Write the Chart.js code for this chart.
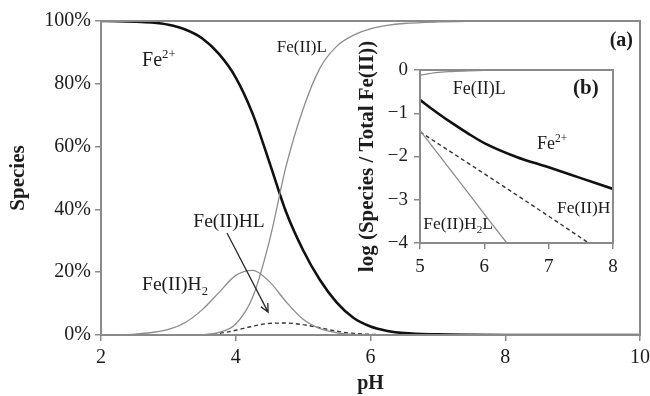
<!DOCTYPE html>
<html>
<head>
<meta charset="utf-8">
<script src="https://cdn.jsdelivr.net/npm/chart.js@4.4.0/dist/chart.umd.min.js"></script>
<style>
  body { margin: 0; background: #fff; }
  #wrap { position: relative; width: 650px; height: 396px; overflow: hidden; background: #fff; }
  #mainChart { position: absolute; left: 0; top: 0; }
  #insetChart { position: absolute; left: 355px; top: 38px; }
</style>
</head>
<body>
<div id="wrap">
  <canvas id="mainChart" width="650" height="396"></canvas>
  <canvas id="insetChart" width="270" height="252"></canvas>
</div>
<script>
// (a) species distribution, % of total Fe(II) vs pH
const phMain = [2, 2.25, 2.5, 2.75, 3, 3.25, 3.5, 3.75, 4, 4.25, 4.5, 4.75, 5, 5.25, 5.5, 5.75, 6, 6.25, 6.5, 7, 7.5, 8, 9, 10];
const fe2Pct  = [100, 99.95, 99.8, 99.5, 98.8, 97.3, 94.5, 89.5, 82, 70.5, 55, 39, 27, 17.5, 10.3, 5.4, 2.7, 1.3, 0.6, 0.2, 0.05, 0, 0, 0];
const feLPct  = [0, 0, 0, 0, 0, 0, 0.1, 0.8, 3.5, 12, 30, 54, 72, 85, 92, 95.5, 97.5, 98.6, 99.2, 99.7, 99.9, 100, 100, 100];
const feH2Pct = [0, 0.1, 0.3, 0.8, 1.8, 4, 8, 13.5, 19, 20.6, 17, 10.5, 5, 2, 0.7, 0.2, 0.05, 0, 0, 0, 0, 0, 0, 0];
const feHLPct = [0, 0, 0, 0, 0, 0, 0, 0.5, 1.5, 2.8, 3.7, 3.8, 3.3, 2.3, 1.2, 0.5, 0.2, 0.05, 0, 0, 0, 0, 0, 0];
const mainTicksY = [0, 20, 40, 60, 80, 100];

// (b) log(species / total Fe(II)) for pH 5-8
const phInset = [5, 5.25, 5.5, 5.75, 6, 6.5, 7, 7.5, 8];
const fe2Log  = [-0.69, -0.97, -1.23, -1.47, -1.69, -2.01, -2.25, -2.5, -2.75];
const feLLog  = [-0.12, -0.06, -0.035, -0.02, -0.01, -0.005, 0, 0, 0];
const h2lPh   = [5, 5.5, 6, 6.35];
const h2lLog  = [-1.4, -2.36, -3.33, -4];
const hlPh    = [5, 6, 7, 7.62];
const hlLog   = [-1.43, -2.4, -3.38, -4];

const SERIF = "'Liberation Serif', 'Times New Roman', serif";
const AXIS = "#8a8a8a";
const INK = "#1c1c1c";
const GREY_LINE = "#8c8c8c";

function pts(xs, ys) {
    return xs.map((x, i) => ({x, y: ys[i]}));
}

function line(label, xs, ys, color, width, dash) {
    return {
        label,
        data: pts(xs, ys),
        borderColor: color,
        borderWidth: width,
        borderDash: dash || [],
        pointRadius: 0,
        fill: false,
        cubicInterpolationMode: "monotone",
    };
}

// text with optional super/subscript pieces, left aligned at (px, py)
function drawRich(ctx, px, py, parts, size, bold) {
    let cx = px;
    ctx.textBaseline = "middle";
    ctx.textAlign = "left";
    for (const p of parts) {
        const s = p.sup || p.sub ? size * 0.64 : size;
        ctx.font = (bold ? "bold " : "") + s + "px " + SERIF;
        let dy = 0;
        if (p.sup) dy = -size * 0.3;
        if (p.sub) dy = size * 0.32;
        ctx.fillText(p.t, cx, py + dy);
        cx += ctx.measureText(p.t).width;
    }
}

const frameAndNotes = {
    id: "frameAndNotes",
    afterDatasetsDraw(chart, args, opts) {
        const {ctx, chartArea: a, scales} = chart;
        const sx = scales.x, sy = scales.y;
        ctx.save();
        ctx.strokeStyle = AXIS;
        ctx.lineWidth = 2;
        ctx.strokeRect(a.left, a.top, a.right - a.left, a.bottom - a.top);

        ctx.fillStyle = INK;
        for (const n of opts.notes || []) {
            drawRich(ctx, sx.getPixelForValue(n.x), sy.getPixelForValue(n.y), n.parts, n.size, n.bold);
        }
        for (const ar of opts.arrows || []) {
            const x1 = sx.getPixelForValue(ar.from[0]), y1 = sy.getPixelForValue(ar.from[1]);
            const x2 = sx.getPixelForValue(ar.to[0]), y2 = sy.getPixelForValue(ar.to[1]);
            const ang = Math.atan2(y2 - y1, x2 - x1);
            ctx.strokeStyle = "#2a2a2a";
            ctx.lineWidth = 1.3;
            ctx.beginPath();
            ctx.moveTo(x1, y1);
            ctx.lineTo(x2, y2);
            ctx.moveTo(x2 - 9 * Math.cos(ang - 0.45), y2 - 9 * Math.sin(ang - 0.45));
            ctx.lineTo(x2, y2);
            ctx.lineTo(x2 - 9 * Math.cos(ang + 0.45), y2 - 9 * Math.sin(ang + 0.45));
            ctx.stroke();
        }
        ctx.restore();
    }
};

const axisLook = {
    grid: { display: true, drawOnChartArea: false, drawTicks: true, tickLength: 6, color: AXIS, lineWidth: 1.5 },
    border: { display: true, color: AXIS, width: 2 },
};

new Chart(document.getElementById("mainChart"), {
    type: "line",
    data: {
        datasets: [
            line("Fe(II)H2", phMain, feH2Pct, GREY_LINE, 1.3),
            line("Fe(II)L", phMain, feLPct, GREY_LINE, 1.3),
            line("Fe(II)HL", phMain, feHLPct, "#333", 1.4, [4, 3]),
            line("Fe2+", phMain, fe2Pct, "#111", 2.6),
        ]
    },
    options: {
        responsive: false,
        animation: false,
        devicePixelRatio: 1,
        layout: { padding: { top: 21, right: 10, left: 0, bottom: 0 } },
        plugins: {
            legend: { display: false },
            tooltip: { enabled: false },
            frameAndNotes: {
                notes: [
                    { x: 2.61, y: 87.3, parts: [{t: "Fe"}, {t: "2+", sup: true}], size: 20 },
                    { x: 4.61, y: 91.4, parts: [{t: "Fe(II)L"}], size: 17 },
                    { x: 3.37, y: 36, parts: [{t: "Fe(II)HL"}], size: 19.5 },
                    { x: 2.61, y: 15.9, parts: [{t: "Fe(II)H"}, {t: "2", sub: true}], size: 19.5 },
                    { x: 9.55, y: 93.6, parts: [{t: "(a)"}], size: 20, bold: true },
                ],
                arrows: [ { from: [3.87, 32.5], to: [4.48, 7.3] } ],
            },
        },
        scales: {
            x: {
                type: "linear",
                min: 2, max: 10,
                afterFit(s) { s.height = 61; s.paddingLeft = 0; s.paddingRight = 0; },
                ticks: { stepSize: 2, color: INK, padding: 5, maxRotation: 0, font: { family: SERIF, size: 20 } },
                title: { display: true, text: "pH", color: INK, padding: { top: 0, bottom: 0 }, font: { family: SERIF, size: 20, weight: "bold" } },
                ...axisLook,
            },
            y: {
                min: 0, max: 100,
                afterFit(s) { s.width = 101; s.paddingTop = 0; s.paddingBottom = 0; },
                afterBuildTicks(s) { s.ticks = mainTicksY.map(v => ({value: v})); },
                ticks: { color: INK, padding: 4, callback: v => v + "%", font: { family: SERIF, size: 20 } },
                title: { display: true, text: "Species", color: INK, padding: { top: 6, bottom: 0 }, font: { family: SERIF, size: 21, weight: "bold" } },
                ...axisLook,
            }
        }
    },
    plugins: [frameAndNotes]
});

new Chart(document.getElementById("insetChart"), {
    type: "line",
    data: {
        datasets: [
            line("Fe(II)L", phInset, feLLog, GREY_LINE, 1.3),
            line("Fe(II)H2L", h2lPh, h2lLog, GREY_LINE, 1.3),
            line("Fe(II)HL", hlPh, hlLog, "#333", 1.4, [4, 3]),
            line("Fe2+", phInset, fe2Log, "#111", 2.6),
        ]
    },
    options: {
        responsive: false,
        animation: false,
        devicePixelRatio: 1,
        layout: { padding: { top: 32, right: 12, left: 0, bottom: 0 } },
        plugins: {
            legend: { display: false },
            tooltip: { enabled: false },
            frameAndNotes: {
                notes: [
                    { x: 5.51, y: -0.44, parts: [{t: "Fe(II)L"}], size: 18 },
                    { x: 7.38, y: -0.42, parts: [{t: "(b)"}], size: 21, bold: true },
                    { x: 6.82, y: -1.71, parts: [{t: "Fe"}, {t: "2+", sup: true}], size: 18 },
                    { x: 7.13, y: -3.19, parts: [{t: "Fe(II)H"}], size: 17.5 },
                    { x: 5.05, y: -3.58, parts: [{t: "Fe(II)H"}, {t: "2", sub: true}, {t: "L"}], size: 17.5 },
                ],
            },
        },
        scales: {
            x: {
                type: "linear",
                min: 5, max: 8,
                afterFit(s) { s.height = 47; s.paddingLeft = 0; s.paddingRight = 0; },
                ticks: { stepSize: 1, color: INK, padding: 7, maxRotation: 0, font: { family: SERIF, size: 19 } },
                ...axisLook,
            },
            y: {
                min: -4, max: 0,
                afterFit(s) { s.width = 65; s.paddingTop = 0; s.paddingBottom = 0; },
                ticks: { stepSize: 1, color: INK, padding: 6, callback: v => v === 0 ? "0" : "\u2212" + Math.abs(v), font: { family: SERIF, size: 19 } },
                title: { display: true, text: "log (Species / Total Fe(II))", color: INK, padding: { top: 0, bottom: 0 }, font: { family: SERIF, size: 21, weight: "bold" } },
                ...axisLook,
            }
        }
    },
    plugins: [frameAndNotes]
});
</script>
</body>
</html>
